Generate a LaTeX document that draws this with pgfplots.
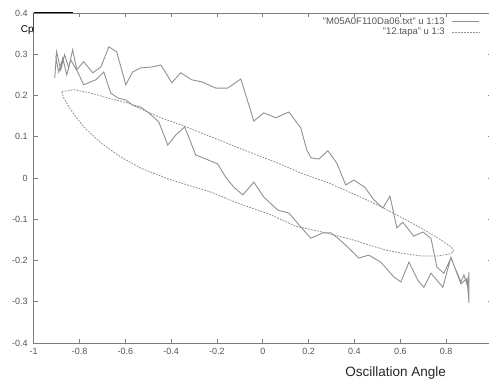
\documentclass[border=0pt]{standalone}
\usepackage{pgfplots}
\pgfplotsset{compat=1.18}
\usepackage{fontspec}
\setmainfont{Liberation Sans}
\definecolor{axgray}{RGB}{125,125,125}
\definecolor{linegray}{RGB}{145,145,145}
\definecolor{dashgray}{RGB}{145,145,145}
\definecolor{txtgray}{RGB}{85,85,85}

\pgfplotstableread{
x y
-0.908 0.243
-0.900 0.306
-0.882 0.262
-0.865 0.299
-0.847 0.267
-0.830 0.311
-0.812 0.262
-0.782 0.282
-0.742 0.255
-0.707 0.269
-0.672 0.318
-0.638 0.306
-0.598 0.226
-0.568 0.257
-0.533 0.267
-0.485 0.269
-0.445 0.274
-0.397 0.231
-0.358 0.255
-0.310 0.238
-0.266 0.233
-0.205 0.218
-0.153 0.218
-0.096 0.240
-0.039 0.138
0.004 0.158
0.057 0.146
0.114 0.160
0.166 0.121
0.192 0.068
0.210 0.049
0.245 0.046
0.284 0.066
0.323 0.036
0.362 -0.017
0.397 -0.005
0.445 -0.022
0.485 -0.053
0.524 -0.073
0.555 -0.044
0.585 -0.121
0.611 -0.107
0.659 -0.141
0.699 -0.131
0.734 -0.146
0.760 -0.216
0.790 -0.231
0.821 -0.194
0.865 -0.252
0.878 -0.235
0.895 -0.265
0.900 -0.228
0.900 -0.303
0.891 -0.243
0.865 -0.257
0.821 -0.192
0.786 -0.265
0.734 -0.231
0.703 -0.265
0.677 -0.248
0.638 -0.204
0.603 -0.252
0.572 -0.240
0.515 -0.204
0.463 -0.187
0.419 -0.194
0.362 -0.163
0.328 -0.146
0.297 -0.133
0.262 -0.133
0.210 -0.146
0.166 -0.119
0.114 -0.085
0.066 -0.078
0.004 -0.046
-0.039 -0.010
-0.087 -0.041
-0.127 -0.022
-0.162 0.002
-0.197 0.034
-0.240 0.044
-0.293 0.056
-0.341 0.124
-0.380 0.104
-0.415 0.080
-0.454 0.136
-0.498 0.158
-0.533 0.172
-0.568 0.177
-0.598 0.189
-0.633 0.194
-0.664 0.206
-0.694 0.257
-0.729 0.238
-0.782 0.226
-0.808 0.257
-0.838 0.286
-0.856 0.250
-0.873 0.291
-0.891 0.257
-0.904 0.296
}\cpdata

\pgfplotstableread{
x y
-0.878 0.209
-0.825 0.214
-0.751 0.206
-0.677 0.194
-0.590 0.182
-0.502 0.160
-0.445 0.146
-0.358 0.129
-0.227 0.100
-0.083 0.068
0.066 0.036
0.166 0.012
0.288 -0.012
0.437 -0.049
0.528 -0.073
0.603 -0.095
0.690 -0.121
0.777 -0.150
0.821 -0.167
0.834 -0.177
0.817 -0.184
0.764 -0.189
0.690 -0.189
0.603 -0.182
0.537 -0.175
0.393 -0.150
0.275 -0.133
0.144 -0.117
0.026 -0.087
-0.109 -0.061
-0.227 -0.034
-0.328 -0.017
-0.415 -0.002
-0.533 0.024
-0.620 0.051
-0.707 0.085
-0.782 0.124
-0.838 0.165
-0.869 0.194
-0.878 0.209
}\tapadata

\begin{document}
\begin{tikzpicture}
\begin{axis}[
  name=ax,
  at={(0,0)}, anchor=south west,
  scale only axis, width=458.2pt, height=330pt,
  xmin=-1, xmax=1, ymin=-0.4, ymax=0.4,
  xtick={-1,-0.8,-0.6,-0.4,-0.2,0,0.2,0.4,0.6,0.8},
  ytick={-0.4,-0.3,-0.2,-0.1,0,0.1,0.2,0.3,0.4},
  tick align=inside, major tick length=4pt,
  axis line style={axgray, line width=0.8pt},
  tick style={axgray, line width=0.8pt},
  ticklabel style={font=\fontsize{9}{10}\selectfont, text=txtgray},
  yticklabel style={xshift=-2.5pt},
  xticklabel style={yshift=-1.5pt},
  /pgf/number format/assume math mode=true,
  /pgf/number format/fixed,
  xlabel={Oscillation Angle},
  every axis x label/.style={at={(axis description cs:0.79,0)}, anchor=base, yshift=-34pt, font=\fontsize{13.5}{15}\selectfont, text=black!85},
  ylabel={Cp},
  every axis y label/.style={at={(axis description cs:0,1)}, anchor=center, xshift=-6.5pt, yshift=-17.5pt, font=\fontsize{10}{12}\selectfont, text=black},
  legend style={at={(axis description cs:1,1)}, anchor=north east, xshift=-12pt, yshift=-2.5pt, draw=none, fill=none, inner sep=0pt, font=\fontsize{9.5}{10.5}\selectfont, text=txtgray, row sep=-1.5pt, column sep=5pt, cells={anchor=east}},
  legend plot pos=right,
  legend image code/.code={\draw[#1] (0cm,0cm) -- (0.95cm,0cm);},
]
\addplot[linegray, line width=0.9pt] table[x=x,y=y] {\cpdata};
\addlegendentry{"M05A0F110Da06.txt" u 1:13}
\addplot[dashgray, line width=0.8pt, dash pattern=on 1.8pt off 1.2pt] table[x=x,y=y] {\tapadata};
\addlegendentry{"12.tapa" u 1:3}
\draw[black, line width=1pt] (rel axis cs:0,1) -- ++(39pt,0pt);
\draw[black, line width=1pt] (rel axis cs:0,1) -- ++(0pt,-20pt);
\end{axis}
\pgfresetboundingbox
\path[use as bounding box] ([shift={(-33.7pt,-40pt)}]ax.south west) rectangle ([shift={(-2.9pt,13pt)}]ax.north east);
\end{tikzpicture}
\end{document}
